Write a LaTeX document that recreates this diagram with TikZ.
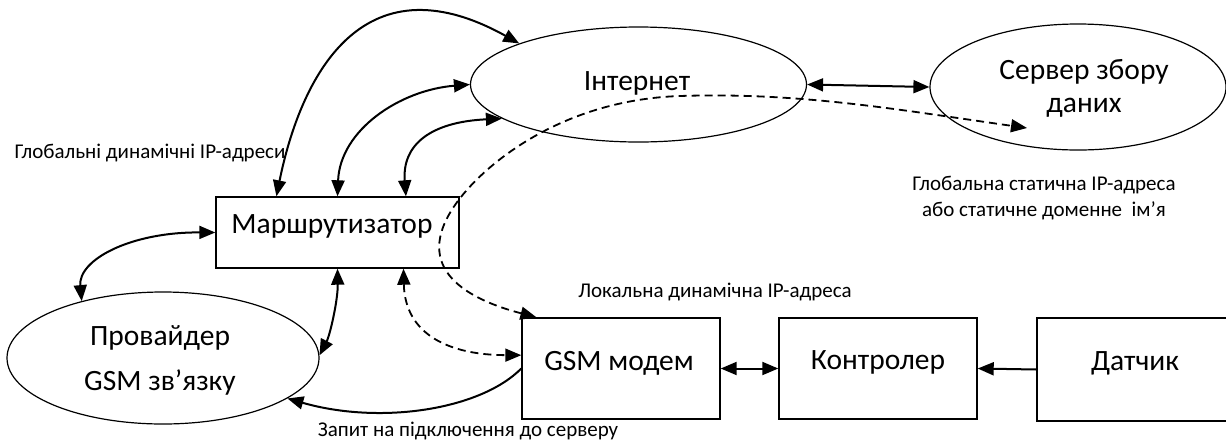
\documentclass[tikz,border=0pt]{standalone}
\usepackage{fontspec}
\setmainfont{Carlito}
\usetikzlibrary{arrows.meta,shapes.geometric,calc}

\tikzset{
  big/.style={font=\fontsize{29.5}{34}\selectfont},
  small/.style={font=\fontsize{21}{25}\selectfont},
  oval/.style={draw, line width=1.2pt, ellipse, inner sep=0pt},
  block/.style={draw, line width=1.4pt, rectangle, inner sep=0pt},
  both/.style={line width=2pt, {Triangle[length=16pt,width=13pt]}-{Triangle[length=16pt,width=13pt]}},
  one/.style={line width=2pt, -{Triangle[length=16pt,width=13pt]}},
  dashboth/.style={line width=1.8pt, dash pattern=on 8pt off 5pt,
    {Triangle[length=16pt,width=13pt]}-{Triangle[length=16pt,width=13pt]}},
}

\begin{document}
\begin{tikzpicture}[x=1pt,y=-1pt]
\useasboundingbox (0,0) rectangle (1226,440);

% shapes
\node[oval, minimum width=336pt, minimum height=115pt] (inet) at (638.5,84.5) {};
\node[oval, minimum width=296pt, minimum height=126pt] (server) at (1078,87) {};
\node[oval, minimum width=312pt, minimum height=132pt] (prov) at (163,358) {};
\node[block, minimum width=243pt, minimum height=71pt] (router) at (337.5,232.5) {};
\node[block, minimum width=198pt, minimum height=101pt] (gsm) at (621,368.5) {};
\node[block, minimum width=198pt, minimum height=101pt] (ctrl) at (878,368.5) {};
\node[block, minimum width=203pt, minimum height=103pt] (sensor) at (1138.5,369.5) {};

% texts inside the shapes
\node[big] (inettxt) at (637,83) {Інтернет};
\node[big] (servtxt1) at (1084,72) {Сервер збору};
\node[big] (servtxt2) at (1084,108) {даних};
\node[big] (provtxt1) at (160,338) {Провайдер};
\node[big] (provtxt2) at (160,382) {GSM зв’язку};
\node[big] (routertxt) at (332,226) {Маршрутизатор};
\node[big] (gsmtxt) at (619,363) {GSM модем};
\node[big] (ctrltxt) at (878,362) {Контролер};
\node[big] (sensortxt) at (1135,363) {Датчик};

% labels
\node[small] (lab1) at (150,153) {Глобальні динамічні IP-адреси};
\node[small] (lab2) at (1044,185) {Глобальна статична IP-адреса};
\node[small] (lab3) at (1044,211) {або статичне доменне\ \ ім’я};
\node[small] (lab4) at (715,292) {Локальна динамічна IP-адреса};
\node[small] (lab5) at (468,431) {Запит на підключення до серверу};

% attachment points
\coordinate (rn1) at ($(router.north west)!0.25!(router.north east)$);
\coordinate (rn3) at ($(router.north west)!0.78!(router.north east)$);
\coordinate (rs3) at ($(router.south west)!0.77!(router.south east)$);
\coordinate (gn) at ($(gsm.north west)!0.076!(gsm.north east)$);
\coordinate (gw) at ($(gsm.north west)!0.37!(gsm.south west)$);
\coordinate (dashend) at (1027,128);

% connectors router -- internet
\draw[both] (rn1) .. controls (300,80) and (360,-45) .. (inet.161.4);
\draw[both] (router.north) .. controls (340,130) and (400,90) .. (inet.180);
\draw[both] (rn3) .. controls (402,145) and (430,122) .. (inet.194.9);

% internet -- server
\draw[both] (inet.0) -- (server.180);

% router -- provider
\draw[both] (router.west) .. controls (130,232) and (78,260) .. (prov.145);
\draw[both] (router.south) .. controls (338,300) and (330,335) .. (prov.1);

% gsm -- provider
\draw[one] (gsm.west) .. controls (480,410) and (380,425) .. (prov.342.8);

% dashed routes
\draw[dashboth] (gn) .. controls (470,300) and (410,270) .. (455,205)
  .. controls (482,166) and (560,100) .. (680,96)
  .. controls (800,92) and (900,110) .. (dashend);
\draw[dashboth] (rs3) .. controls (405,335) and (450,355) .. (gw);

% modem -- controller -- sensor
\draw[both] (gsm.east) -- (ctrl.west);
\draw[one] (sensor.west) -- (ctrl.east);
\end{tikzpicture}
\end{document}
